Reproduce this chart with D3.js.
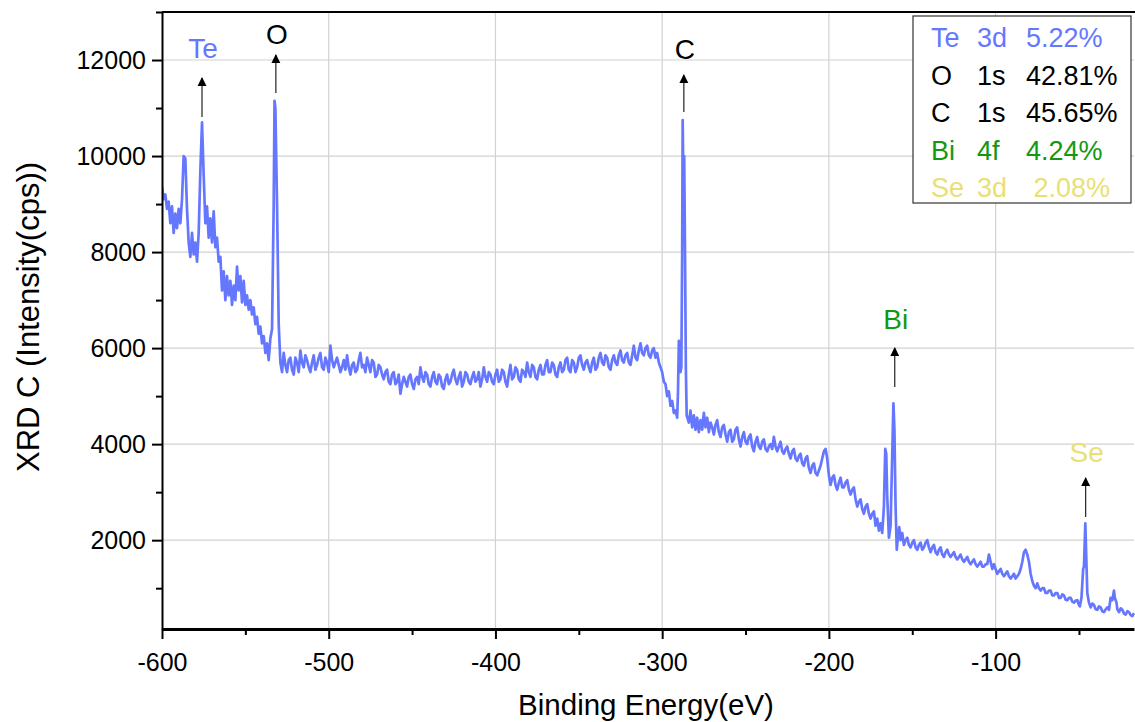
<!DOCTYPE html>
<html><head><meta charset="utf-8">
<script src="https://cdn.jsdelivr.net/npm/d3@7"></script>
<style>body{margin:0;background:#fff} text{font-family:"Liberation Sans",Arial,sans-serif}</style>
</head><body><svg id="c" width="1135" height="722"></svg>
<script>
// XPS survey spectrum: [binding energy (eV), intensity (cps)]
const spectrum = [
[-600,9350],[-599,9100],[-598,9200],[-597,8900],[-596,9050],[-595,8600],[-594,8950],[-593,8400],[-592,8800],[-591,8500],
[-590,8900],[-589,8600],[-588,9100],[-587,10000],[-586,9950],[-585,8900],[-584,8200],[-583,7900],[-582,8400],[-581,7950],
[-580,8200],[-579,7800],[-578,8400],[-577,9700],[-576,10700],[-575,9600],[-574,8600],[-573,8950],[-572,8300],[-571,8700],
[-570,8200],[-569,8850],[-568,8100],[-567,8300],[-566,7800],[-565,7900],[-564,7200],[-563,7600],[-562,7000],[-561,7500],
[-560,7100],[-559,7400],[-558,6900],[-557,7300],[-556,7000],[-555,7700],[-554,7200],[-553,7500],[-552,6950],[-551,7400],
[-550,6900],[-549,7100],[-548,6800],[-547,7000],[-546,6700],[-545,6850],[-544,6500],[-543,6650],[-542,6300],[-541,6450],
[-540,6100],[-539,6250],[-538,5900],[-537,6100],[-536,5750],[-535,6200],[-534,6400],[-533,9000],[-532.5,11150],[-532,11000],
[-531,9000],[-530,6500],[-529,5700],[-528,5500],
[-527,5900],[-526,5650],[-525,5500],[-524,5750],[-523,5800],[-522,5550],[-521,5450],[-520,5800],[-519,5700],[-518,5500],
[-517,5950],[-516,5700],[-515,5600],[-514,5850],[-513,5750],[-512,5600],[-511,5500],[-510,5700],[-509,5850],[-508,5550],
[-507,5650],[-506,5800],[-505,5900],[-504,5600],[-503,5550],[-502,5800],[-501,5700],[-500,5500],[-499,6050],[-498,5750],
[-497,5600],[-496,5700],[-495,5800],[-494,5650],[-493,5500],[-492,5600],[-491,5750],[-490,5550],[-489,5850],[-488,5600],
[-487,5450],[-486,5650],[-485,5700],[-484,5500],[-483,5550],[-482,5750],[-481,5900],[-480,5600],[-479,5650],[-478,5500],
[-477,5800],[-476,5650],[-475,5500],[-474,5750],[-473,5700],[-472,5400],[-471,5450],[-470,5650],[-469,5600],[-468,5450],
[-467,5350],[-466,5500],[-465,5550],[-464,5300],[-463,5250],[-462,5450],[-461,5500],[-460,5250],[-459,5300],[-458,5450],
[-457,5050],[-456,5250],[-455,5400],[-454,5300],[-453,5200],[-452,5400],[-451,5450],[-450,5250],[-449,5150],[-448,5350],
[-447,5400],[-446,5250],[-445,5600],[-444,5400],[-443,5300],[-442,5500],[-441,5450],[-440,5250],[-439,5200],[-438,5400],
[-437,5500],[-436,5300],[-435,5250],[-434,5450],[-433,5400],[-432,5200],[-431,5150],[-430,5350],[-429,5450],[-428,5250],
[-427,5300],[-426,5450],[-425,5550],[-424,5350],[-423,5250],[-422,5400],[-421,5500],[-420,5200],[-419,5300],[-418,5500],
[-417,5450],[-416,5300],[-415,5250],[-414,5400],[-413,5500],[-412,5300],[-411,5350],[-410,5500],[-409,5200],[-408,5350],
[-407,5600],[-406,5400],[-405,5300],[-404,5500],[-403,5450],[-402,5300],[-401,5250],[-400,5450],[-399,5550],[-398,5300],
[-397,5350],[-396,5550],[-395,5500],[-394,5300],[-393,5200],[-392,5450],[-391,5650],[-390,5350],[-389,5400],[-388,5600],
[-387,5550],[-386,5350],[-385,5300],[-384,5550],[-383,5500],[-382,5400],[-381,5700],[-380,5500],[-379,5400],[-378,5650],
[-377,5600],[-376,5400],[-375,5350],[-374,5550],[-373,5650],[-372,5450],[-371,5450],[-370,5650],[-369,5750],[-368,5500],
[-367,5500],[-366,5700],[-365,5650],[-364,5450],[-363,5400],[-362,5600],[-361,5700],[-360,5500],[-359,5550],[-358,5750],
[-357,5800],[-356,5550],[-355,5500],[-354,5750],[-353,5700],[-352,5500],[-351,5600],[-350,5800],[-349,5850],[-348,5650],
[-347,5550],[-346,5700],[-345,5750],[-344,5600],[-343,5500],[-342,5700],[-341,5800],[-340,5550],[-339,5600],[-338,5800],
[-337,5900],[-336,5700],[-335,5650],[-334,5850],[-333,5800],[-332,5600],[-331,5550],[-330,5750],[-329,5850],[-328,5700],
[-327,5650],[-326,5850],[-325,5950],[-324,5750],[-323,5700],[-322,5850],[-321,5900],[-320,5700],[-319,5650],[-318,5850],
[-317,6050],[-316,5800],[-315,5750],[-314,5950],[-313,6100],[-312,5900],[-311,5850],[-310,6000],[-309,6050],[-308,5850],
[-307,5800],[-306,5950],[-305,6000],[-304,5800],[-303,5900],[-302,5700],[-301,5600],[-300,5500],[-299,5300],[-298,5250],
[-297,5000],[-296,5100],[-295,4800],[-294,4900],[-293,4650],[-292,4700],[-291,4550],[-290.5,5100],[-290,6150],[-289.5,5700],
[-289,5500],[-288.5,5600],[-288,8000],[-287.7,10750],[-287.2,9200],[-286.8,10000],[-286.3,8000],[-285.8,5600],[-285.3,4600],
[-284,4450],[-283,4700],[-282,4350],[-281,4600],[-280,4300],[-279,4550],[-278,4250],[-277,4500],[-276,4300],[-275,4650],
[-274,4350],[-273,4550],[-272,4250],[-271,4450],[-270,4350],[-269,4200],[-268,4400],[-267,4500],[-266,4250],[-265,4150],
[-264,4350],[-263,4400],[-262,4200],[-261,4050],[-260,4250],[-259,4300],[-258,4050],[-257,4100],[-256,4300],[-255,4350],
[-254,4100],[-253,3950],[-252,4150],[-251,4250],[-250,4050],[-249,4000],[-248,4150],[-247,4200],[-246,3950],[-245,3850],
[-244,4050],[-243,4150],[-242,3950],[-241,3900],[-240,4050],[-239,4100],[-238,3900],[-237,3850],[-236,3950],[-235,4000],
[-234,3900],[-233,4150],[-232,3950],[-231,3850],[-230,3950],[-229,4050],[-228,3850],[-227,3800],[-226,3900],[-225,3950],
[-224,3800],[-223,3700],[-222,3850],[-221,3900],[-220,3700],[-219,3650],[-218,3750],[-217,3800],[-216,3600],[-215,3550],
[-214,3700],[-213,3750],[-212,3500],[-211,3400],[-210,3550],[-209,3600],[-208,3400],[-207,3350],[-206,3450],[-205,3550],
[-204,3700],[-203,3850],[-202,3900],[-201,3700],[-200,3350],[-199,3150],[-198,3300],[-197,3350],[-196,3150],[-195,3050],
[-194,3200],[-193,3300],[-192,3100],[-191,3100],[-190,3200],[-189,3250],[-188,3050],[-187,2950],[-186,3050],[-185,3100],
[-184,2850],[-183,2700],[-182,2800],[-181,2850],[-180,2650],[-179,2550],[-178,2700],[-177,2750],[-176,2550],[-175,2450],
[-174,2550],[-173,2600],[-172,2300],[-171,2450],[-170,2200],[-169,2350],
[-168,2150],[-167,2700],[-166.2,3900],[-165.6,3800],[-165,2900],[-164,2050],[-163,2300],[-162,3800],[-161.3,4850],[-160.7,4300],
[-160,2700],[-159.3,1800],[-158.5,2100],[-157.8,2270],[-157,2000],[-156,2150],
[-155,1900],[-154,2000],[-153,2050],[-152,1900],[-151,1850],[-150,1950],[-149,2000],[-148,1850],[-147,1800],[-146,1900],
[-145,1950],[-144,1800],[-143,1850],[-142,1950],[-141,2000],[-140,1850],[-139,1750],[-138,1850],[-137,1900],[-136,1750],
[-135,1700],[-134,1800],[-133,1850],[-132,1700],[-131,1650],[-130,1750],[-129,1800],[-128,1700],[-127,1650],[-126,1700],
[-125,1750],[-124,1650],[-123,1600],[-122,1650],[-121,1700],[-120,1600],[-119,1550],[-118,1600],[-117,1650],[-116,1550],
[-115,1500],[-114,1550],[-113,1600],[-112,1500],[-111,1450],[-110,1500],[-109,1550],[-108,1450],[-107,1450],[-106,1500],
[-105,1500],[-104,1700],[-103,1550],[-102,1400],[-101,1500],[-100,1400],[-99,1300],[-98,1350],[-97,1400],[-96,1300],
[-95,1250],[-94,1300],[-93,1350],[-92,1250],[-91,1200],[-90,1250],[-89,1300],[-88,1200],[-87,1250],[-86,1300],
[-85,1400],[-84,1550],[-83,1750],[-82,1800],[-81,1700],[-80,1550],[-79,1300],[-78,1150],[-77,1050],[-76,1000],
[-75,1100],[-74,1000],[-73,950],[-72,1000],[-71,1000],[-70,900],[-69,900],[-68,950],[-67,950],[-66,850],
[-65,850],[-64,900],[-63,900],[-62,800],[-61,800],[-60,870],[-59,850],[-58,760],[-57,750],[-56,800],
[-55,800],[-54,720],[-53,700],[-52,740],[-51,750],[-50,650],[-49.5,620],
[-48.5,800],[-47.5,1400],[-47,1450],[-46.2,2350],[-45.6,1600],[-45,900],[-44,700],[-43,600],[-42,680],[-41,650],
[-40,560],[-39,550],[-38,620],[-37,600],[-36,520],[-35,500],[-34,560],[-33,600],[-32,550],[-31,800],
[-30,750],[-29,950],[-28.5,800],[-27.5,700],[-27,560],[-26,500],[-25,580],[-24,550],[-23,470],[-22,450],
[-21,520],[-20,500],[-19,440],[-18,420],[-17,480]
];

const xDomain = [-600, -17];
const yDomain = [150, 13000];
const xTicks = [-600, -500, -400, -300, -200, -100];
const xMinor = [-550, -450, -350, -250, -150, -50];
const yTicks = [2000, 4000, 6000, 8000, 10000, 12000];
const yMinor = [1000, 3000, 5000, 7000, 9000, 11000, 13000];

// peak annotations (energy, arrow base/tip intensity, label intensity)
const annLabels = ["Te", "O", "C", "Bi", "Se"];
const annEnergy = [-576, -531.7, -287, -160.5, -46];
const annBase = [10813, 11313, 10918, 5190, 2483];
const annTip = [11626, 12104, 11688, 6002, 3295];
const annText = [12250, 12521, 12209, 6586, 3836];

// composition table
const legElem = ["Te", "O", "C", "Bi", "Se"];
const legOrbital = ["3d", "1s", "1s", "4f", "3d"];
const legPercent = ["5.22%", "42.81%", "45.65%", "4.24%", " 2.08%"];

const elemColor = {Te: "#6677ff", O: "#000000", C: "#000000", Bi: "#119911", Se: "#e9e074"};

const L = 162, R = 1134, T = 12, B = 629;
const FONT = "Liberation Sans, Arial, sans-serif";
const svg = d3.select("#c");
const x = d3.scaleLinear().domain(xDomain).range([L, R]);
const y = d3.scaleLinear().domain(yDomain).range([B, T]);

// grid
svg.append("g").selectAll("line").data(xTicks.filter(d => d !== -600)).join("line")
  .attr("x1", d => x(d)).attr("x2", d => x(d)).attr("y1", T).attr("y2", B)
  .attr("stroke", "#d2d2d2").attr("stroke-width", 1.2);
svg.append("g").selectAll("line").data(yTicks).join("line")
  .attr("x1", L).attr("x2", R).attr("y1", d => y(d)).attr("y2", d => y(d))
  .attr("stroke", "#d2d2d2").attr("stroke-width", 1.2);

// spectrum
svg.append("clipPath").attr("id", "clip").append("rect")
  .attr("x", L).attr("y", T).attr("width", R - L + 2).attr("height", B - T);
svg.append("path").datum(spectrum)
  .attr("clip-path", "url(#clip)")
  .attr("fill", "none").attr("stroke", "#6677ff").attr("stroke-width", 2.7)
  .attr("stroke-linejoin", "round")
  .attr("d", d3.line().x(d => x(d[0])).y(d => y(d[1])));

// axes
const fmt = d => String(d);
const xAxis = svg.append("g").attr("transform", `translate(0,${B})`)
  .call(d3.axisBottom(x).tickValues(xTicks).tickSize(10).tickSizeOuter(0).tickFormat(fmt));
svg.append("g").attr("transform", `translate(0,${B})`)
  .call(d3.axisBottom(x).tickValues(xMinor).tickSize(6).tickSizeOuter(0).tickFormat(""))
  .call(g => g.select(".domain").remove());
const yAxis = svg.append("g").attr("transform", `translate(${L},0)`)
  .call(d3.axisLeft(y).tickValues(yTicks).tickSize(10).tickSizeOuter(0).tickFormat(fmt));
svg.append("g").attr("transform", `translate(${L},0)`)
  .call(d3.axisLeft(y).tickValues(yMinor).tickSize(6).tickSizeOuter(0).tickFormat(""))
  .call(g => g.select(".domain").remove());

svg.selectAll(".tick line").attr("stroke", "#000").attr("stroke-width", 2);
xAxis.select(".domain").attr("stroke", "#000").attr("stroke-width", 3);
yAxis.select(".domain").attr("stroke", "#000").attr("stroke-width", 2);
xAxis.selectAll(".tick text").attr("font-size", 25).attr("fill", "#000")
  .attr("font-family", FONT).attr("dy", "1.15em");
yAxis.selectAll(".tick text").attr("font-size", 25).attr("fill", "#000")
  .attr("font-family", FONT).attr("dx", "-0.12em");

// top frame
svg.append("line").attr("x1", L).attr("x2", 1135).attr("y1", T).attr("y2", T)
  .attr("stroke", "#000").attr("stroke-width", 2);

// axis titles
svg.append("text").attr("x", 646).attr("y", 715).attr("text-anchor", "middle")
  .attr("font-size", 29.5).attr("fill", "#000").text("Binding Energy(eV)");
svg.append("text").attr("transform", "translate(39,317) rotate(-90)").attr("text-anchor", "middle")
  .attr("font-size", 31).attr("fill", "#000").text("XRD C (Intensity(cps))");

// arrows + labels
const defs = svg.append("defs");
defs.append("marker").attr("id", "ah").attr("viewBox", "0 0 10 10").attr("refX", 9).attr("refY", 5)
  .attr("markerWidth", 9).attr("markerHeight", 13).attr("markerUnits", "userSpaceOnUse").attr("orient", "auto")
  .append("path").attr("d", "M0,0 L10,5 L0,10 Z").attr("fill", "#000");
annLabels.forEach((lab, i) => {
  svg.append("line").attr("x1", x(annEnergy[i])).attr("x2", x(annEnergy[i]))
    .attr("y1", y(annBase[i])).attr("y2", y(annTip[i]))
    .attr("stroke", "#222").attr("stroke-width", 1.2).attr("marker-end", "url(#ah)");
  svg.append("text").attr("x", x(annEnergy[i]) + 1).attr("y", y(annText[i]))
    .attr("text-anchor", "middle").attr("dominant-baseline", "central")
    .attr("font-size", 28).attr("fill", elemColor[lab]).text(lab);
});

// composition box
svg.append("rect").attr("x", 913).attr("y", 16).attr("width", 218).attr("height", 187)
  .attr("fill", "#fff").attr("stroke", "#333").attr("stroke-width", 1.2);
const colX = [931, 977, 1026];
legElem.forEach((el, i) => {
  const yy = 38 + i * 37.5;
  [el, legOrbital[i], legPercent[i]].forEach((t, j) => {
    svg.append("text").attr("x", colX[j]).attr("y", yy).attr("dominant-baseline", "central")
      .attr("xml:space", "preserve").style("white-space", "pre")
      .attr("font-size", 27).attr("fill", elemColor[el]).text(t);
  });
});
</script></body></html>
